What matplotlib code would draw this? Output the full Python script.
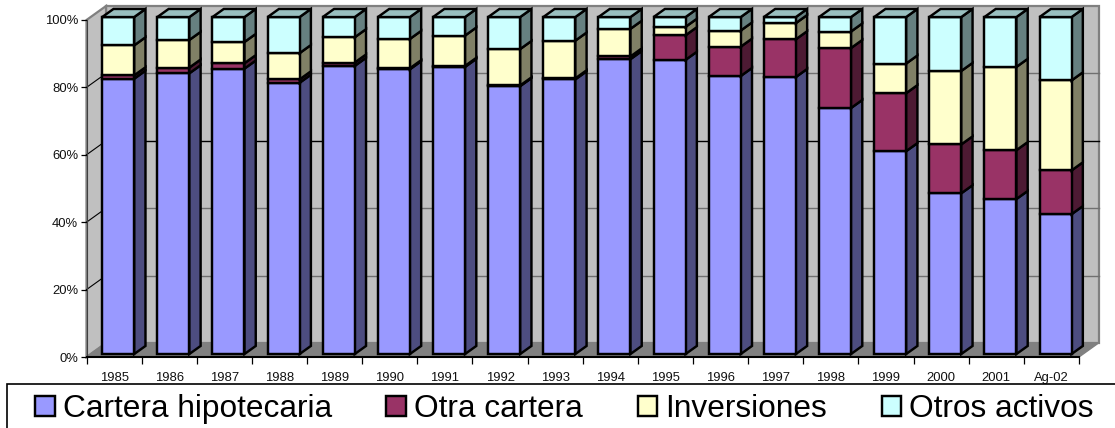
import matplotlib
matplotlib.use("Agg")
import matplotlib.pyplot as plt
from matplotlib.patches import Patch, Polygon, Rectangle
from matplotlib.colors import to_rgb

plt.rcParams["font.family"] = ["Liberation Sans", "DejaVu Sans"]

years = ["1985", "1986", "1987", "1988", "1989", "1990", "1991", "1992", "1993",
         "1994", "1995", "1996", "1997", "1998", "1999", "2000", "2001", "Ag-02"]
hipotecaria = [81.7, 83.3, 84.7, 80.5, 85.5, 84.5, 85.2, 79.5, 81.5,
               87.5, 87.3, 82.5, 82.2, 73.0, 60.2, 47.7, 46.0, 41.5]
otra = [1.0, 1.7, 1.6, 1.0, 1.0, 0.3, 0.3, 0.2, 0.3,
        0.8, 7.3, 8.7, 11.2, 17.8, 17.2, 14.5, 14.5, 13.0]
inversiones = [8.9, 8.2, 6.3, 7.8, 7.5, 8.7, 9.0, 10.8, 11.2,
               8.2, 2.5, 4.8, 4.8, 4.9, 8.8, 21.8, 24.7, 26.7]
otros = [8.4, 6.8, 7.4, 10.7, 6.0, 6.5, 5.5, 9.5, 7.0,
         3.5, 2.9, 4.0, 1.8, 4.3, 13.8, 16.0, 14.8, 18.8]

series = [hipotecaria, otra, inversiones, otros]
labels = ["Cartera hipotecaria", "Otra cartera", "Inversiones", "Otros activos"]
colors = ["#9999ff", "#993366", "#ffffcc", "#ccffff"]

# depth of the fake 3d box, in data units (x = category, y = percent)
DX = 0.354
DY = 4.15
BAR_W = 0.58
D0, D1 = 0.21, 0.79
LW = 1.75


def shade(color, f):
    return tuple(c * f for c in to_rgb(color))


def pt(x, y, d):
    return (x + d * DX, y + d * DY)


def poly(ax, pts, face, edge="black", lw=LW, z=2):
    ax.add_patch(Polygon(pts, closed=True, facecolor=face, edgecolor=edge, linewidth=lw,
                         joinstyle="miter", clip_on=False, zorder=z))


def draw_walls(ax, n):
    wall = "#c0c0c0"
    line = "#808080"
    poly(ax, [pt(0, 0, 1), pt(n, 0, 1), pt(n, 100, 1), pt(0, 100, 1)], wall, line, 1.6, 1)
    poly(ax, [pt(0, 0, 0), pt(0, 0, 1), pt(0, 100, 1), pt(0, 100, 0)], wall, line, 1.6, 1)
    poly(ax, [pt(0, 0, 0), pt(n, 0, 0), pt(n, 0, 1), pt(0, 0, 1)], line, line, 1.0, 1)
    for v in range(20, 100, 20):
        a, b, c = pt(0, v, 0), pt(0, v, 1), pt(n, v, 1)
        # the 60% line comes out black in the original
        col = "black" if v == 60 else "#707070"
        ax.plot([b[0], c[0]], [b[1], c[1]], color=col, lw=1.0, clip_on=False, zorder=1.5)
        ax.plot([a[0], b[0]], [a[1], b[1]], color="black", lw=0.8, clip_on=False, zorder=1.5)


def draw_bar(ax, i, values):
    x0 = i + (1 - BAR_W) / 2
    x1 = x0 + BAR_W
    bottom = 0.0
    for k, (val, col) in enumerate(zip(values, colors)):
        top = bottom + val
        poly(ax, [pt(x1, bottom, D0), pt(x1, bottom, D1), pt(x1, top, D1), pt(x1, top, D0)],
             shade(col, 0.5))
        poly(ax, [pt(x0, bottom, D0), pt(x1, bottom, D0), pt(x1, top, D0), pt(x0, top, D0)], col)
        if k == len(colors) - 1:
            poly(ax, [pt(x0, top, D0), pt(x1, top, D0), pt(x1, top, D1), pt(x0, top, D1)],
                 shade(col, 0.75))
        bottom = top


def main():
    w, h = 1115, 428
    fig = plt.figure(figsize=(w / 100, h / 100), dpi=100)
    ax = fig.add_axes([86.5 / w, (h - 357) / h, 992.5 / w, 337 / h])

    n = len(years)
    draw_walls(ax, n)
    for i in range(n):
        draw_bar(ax, i, [s[i] for s in series])

    ax.set_xlim(0, n)
    ax.set_ylim(0, 100)
    ax.patch.set_visible(False)
    for side in ("top", "right"):
        ax.spines[side].set_visible(False)
    ax.spines["left"].set_color("#404040")
    ax.spines["left"].set_zorder(1.6)
    ax.spines["bottom"].set_linewidth(1.5)

    ax.set_yticks(range(0, 101, 20))
    ax.set_yticklabels([f"{v}%" for v in range(0, 101, 20)], fontsize=9.4, color="#111111")
    ax.tick_params(axis="y", length=4, width=0.9, pad=2)

    ax.set_xticks(range(n + 1))
    ax.set_xticklabels([])
    ax.set_xticks([i + 0.5 for i in range(n)], minor=True)
    ax.set_xticklabels(years, minor=True, fontsize=9.4, color="#111111")
    ax.tick_params(axis="x", which="major", length=5, width=0.9)
    ax.tick_params(axis="x", which="minor", length=0, pad=10.5)

    # legend box runs off the right and bottom edges of the picture
    fig.add_artist(Rectangle((6.5 / w, -0.02), 1.05, (h - 383.5) / h + 0.02, facecolor="white",
                             edgecolor="black", linewidth=1.2, transform=fig.transFigure))
    handles = [Patch(facecolor=c, edgecolor="black", linewidth=1.75) for c in colors]
    fig.legend(handles, labels, ncol=4, loc="lower left", bbox_to_anchor=(35 / w, 4 / h),
               bbox_transform=fig.transFigure, fontsize=22.8, frameon=False,
               handlelength=0.62, handleheight=0.62, handletextpad=0.25,
               columnspacing=1.73, borderaxespad=0, borderpad=0)

    fig.savefig("out.png", dpi=100)
    plt.close(fig)


if __name__ == "__main__":
    main()
